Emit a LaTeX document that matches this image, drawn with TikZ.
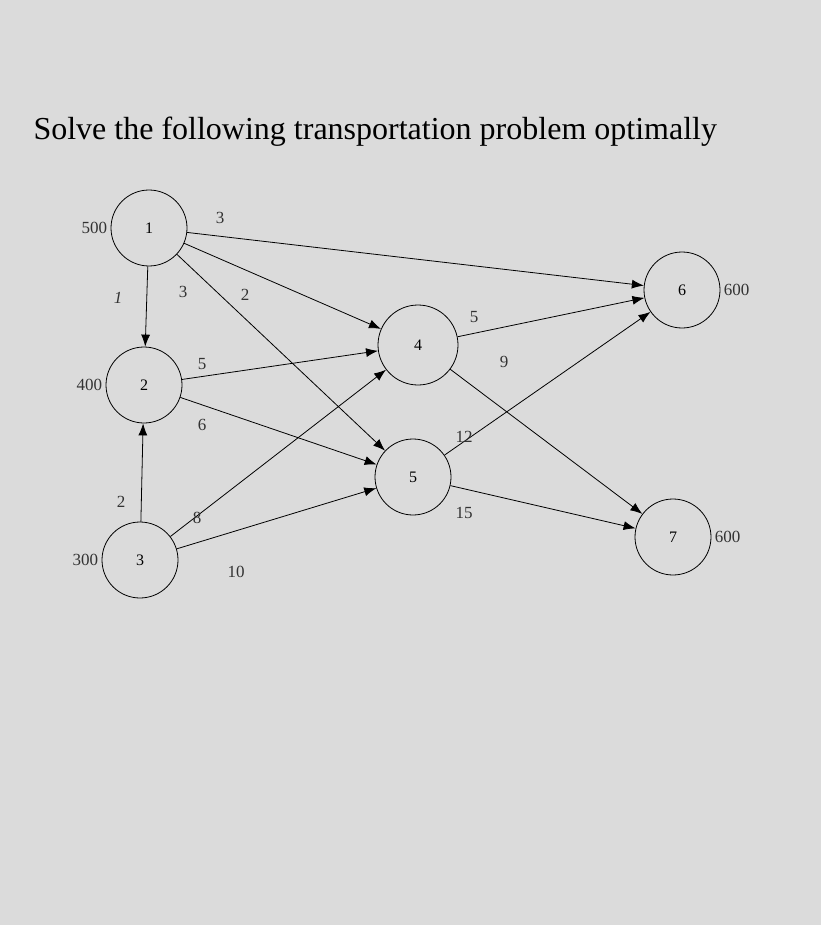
\documentclass[tikz,border=0pt]{standalone}
\usepackage{fontspec}
\setmainfont{Liberation Serif}
\usetikzlibrary{arrows.meta}
\begin{document}
\begin{tikzpicture}[x=1pt,y=-1pt,
  nd/.style={draw,circle,minimum size=76pt,inner sep=0pt,font=\fontsize{16}{18}\selectfont,line width=0.8pt,fill=none},
  ar/.style={-{Latex[length=12pt,width=9pt]},line width=0.8pt},
  lb/.style={font=\fontsize{17}{19}\selectfont,text=black!80}]
\fill[black!14] (0,0) rectangle (821,925);
\node[anchor=west,font=\fontsize{32}{36}\selectfont] (t) at (30,132) {Solve the following transportation problem optimally};
\node[nd] (n1) at (149,228) {1};
\node[nd] (n2) at (144,385) {2};
\node[nd] (n3) at (140,560) {3};
\node[nd,minimum size=80pt] (n4) at (418,345) {4};
\node[nd] (n5) at (413,477) {5};
\node[nd] (n6) at (682,290) {6};
\node[nd] (n7) at (673,537) {7};
\node[lb,anchor=east] (s1) at (n1.west) {500};
\node[lb,anchor=east] (s2) at (n2.west) {400};
\node[lb,anchor=east] (s3) at (n3.west) {300};
\node[lb,anchor=west] (d6) at (n6.east) {600};
\node[lb,anchor=west] (d7) at (n7.east) {600};
\draw[ar] (n1) -- (n2);
\draw[ar] (n1) -- (n6);
\draw[ar] (n1) -- (n4);
\draw[ar] (n1) -- (n5);
\draw[ar] (n2) -- (n4);
\draw[ar] (n2) -- (n5);
\draw[ar] (n3) -- (n2);
\draw[ar] (n3) -- (n4);
\draw[ar] (n3) -- (n5);
\draw[ar] (n4) -- (n6);
\draw[ar] (n4) -- (n7);
\draw[ar] (n5) -- (n6);
\draw[ar] (n5) -- (n7);
\node[lb] (l16) at (220,218) {3};
\node[lb] (l12) at (118,298) {\itshape 1};
\node[lb] (l14) at (183,292) {3};
\node[lb] (l15) at (245,295) {2};
\node[lb] (l24) at (202,364) {5};
\node[lb] (l25) at (202,425) {6};
\node[lb] (l32) at (121,502) {2};
\node[lb] (l34) at (197,518) {8};
\node[lb] (l35) at (236,572) {10};
\node[lb] (l46) at (474,317) {5};
\node[lb] (l47) at (504,362) {9};
\node[lb] (l56) at (464,437) {12};
\node[lb] (l57) at (464,513) {15};
\end{tikzpicture}
\end{document}
